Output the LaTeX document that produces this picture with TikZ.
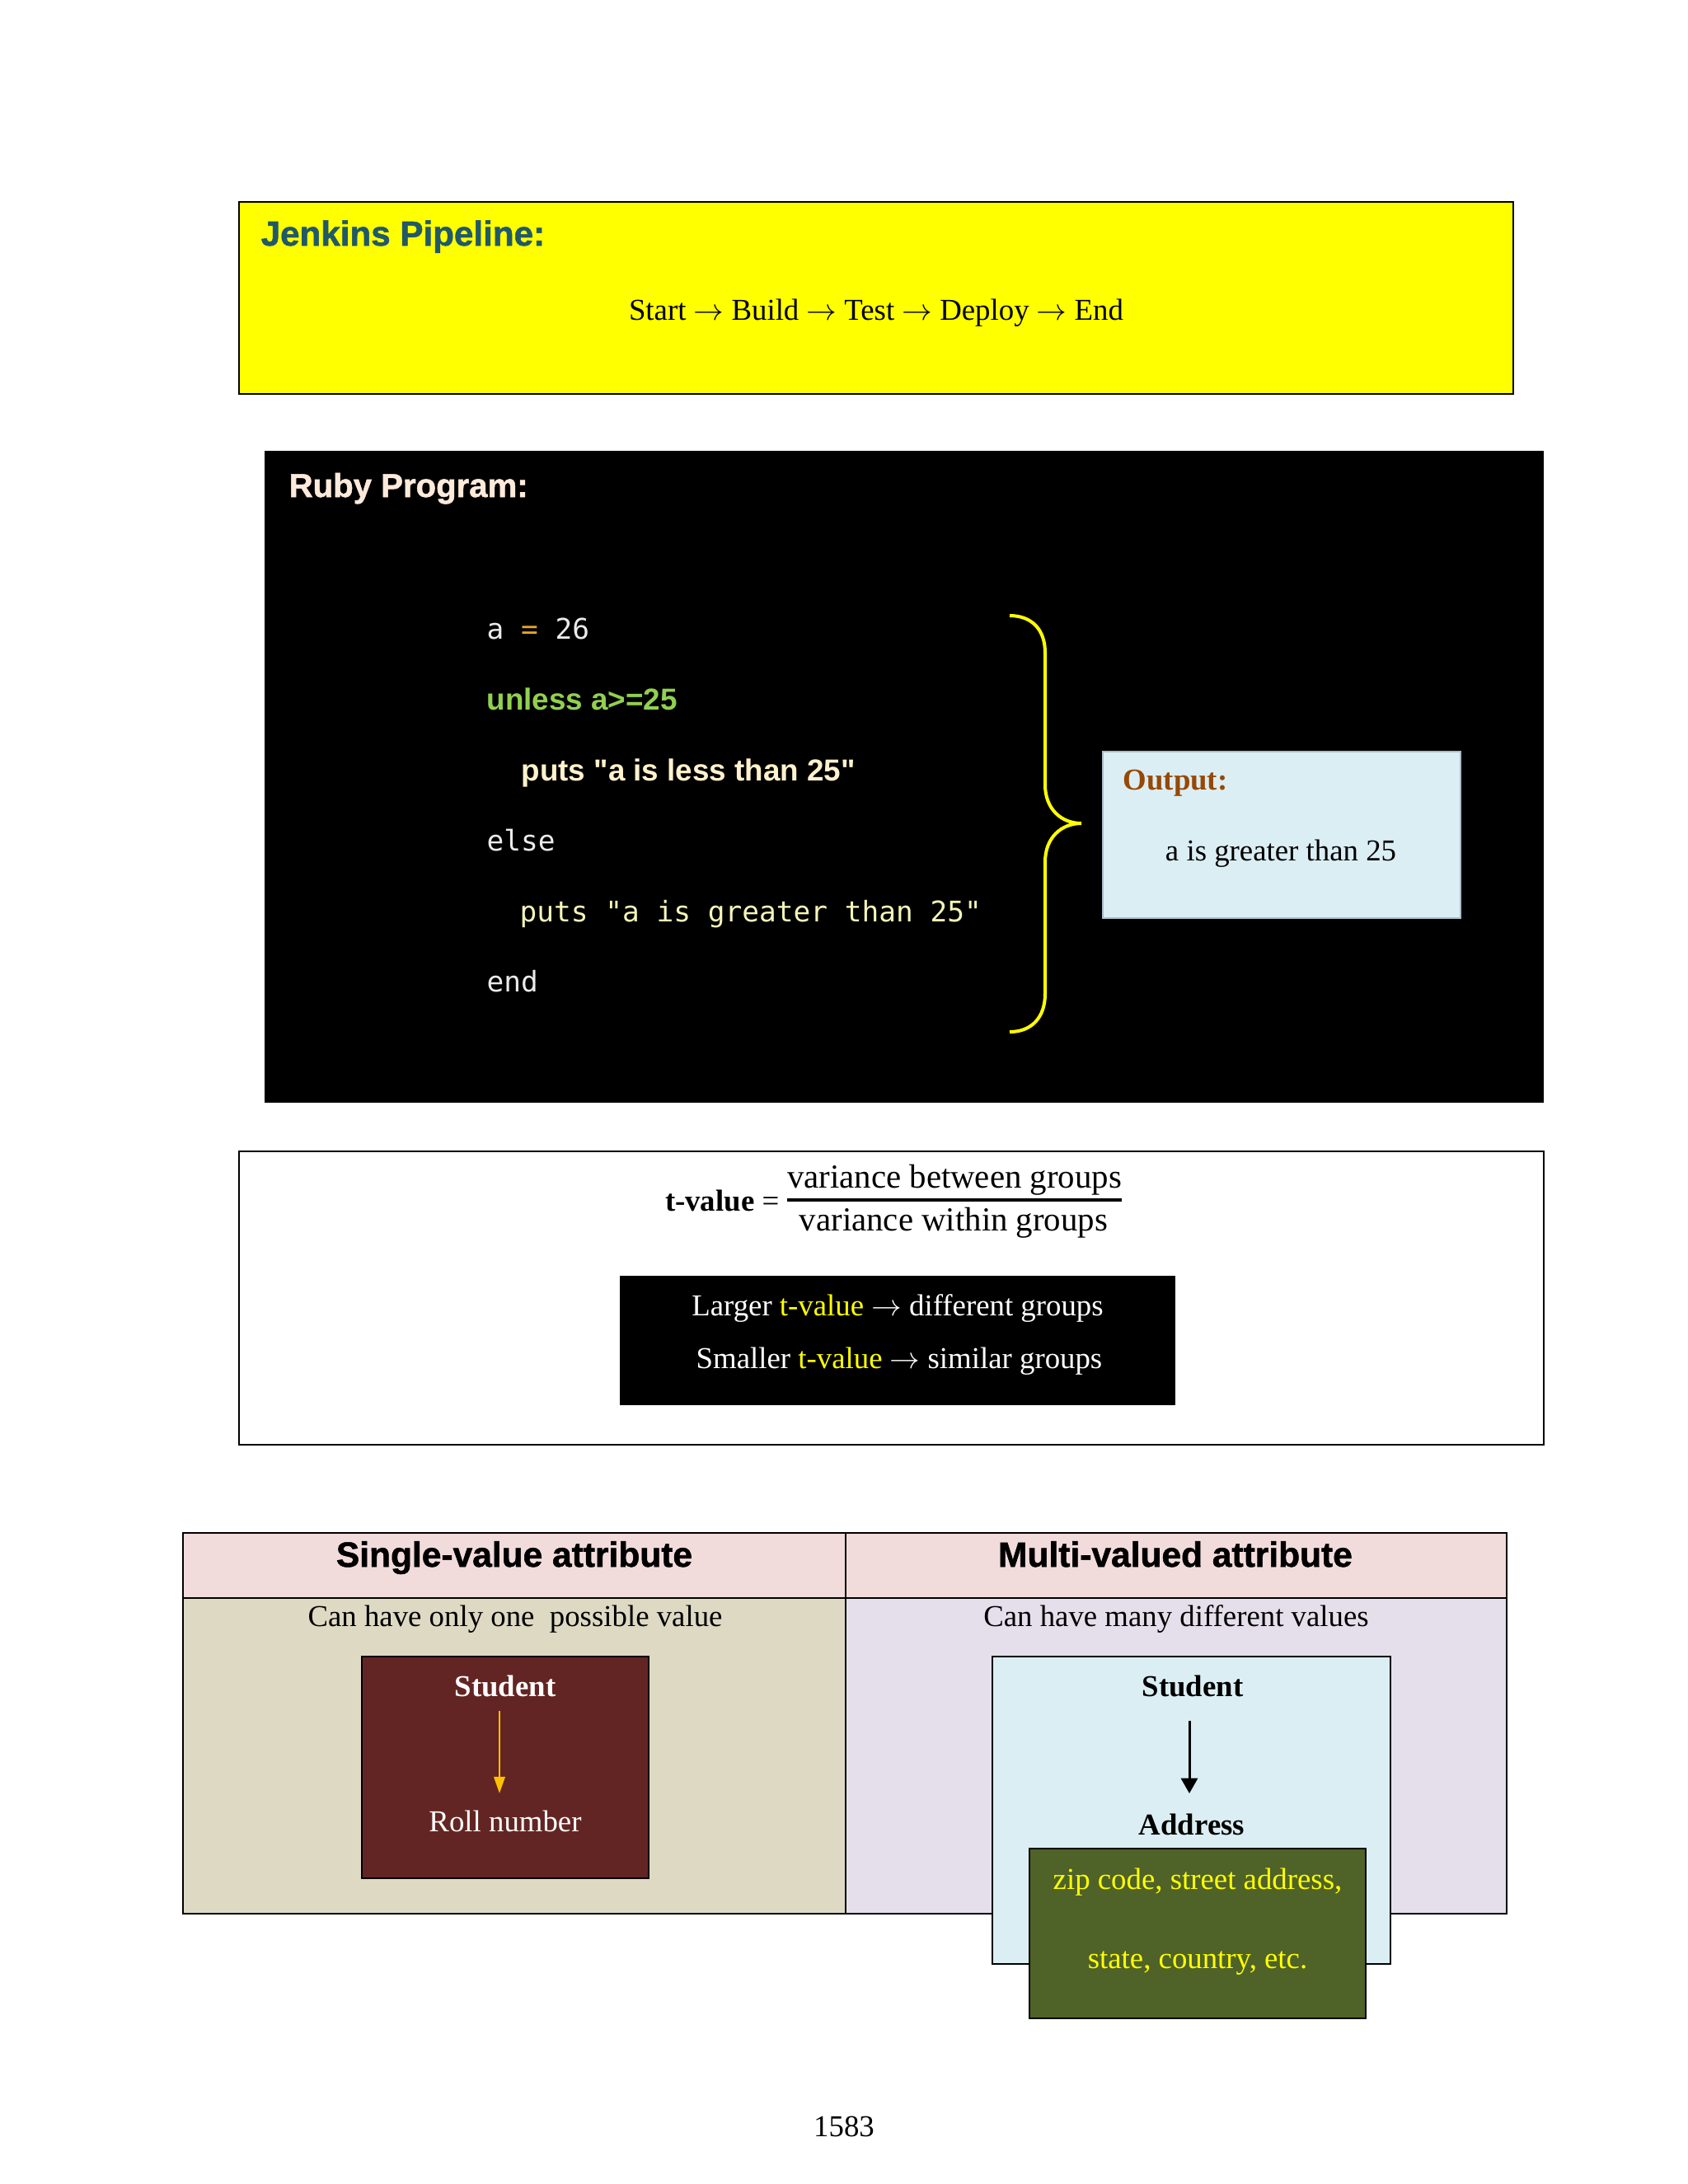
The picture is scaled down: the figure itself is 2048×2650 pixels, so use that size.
\documentclass[tikz,border=0pt]{standalone}
\usepackage{fontspec}
\setmainfont{Liberation Serif}
\setsansfont{Liberation Sans}
\setmonofont{DejaVu Sans Mono}
\newfontfamily\plainsans{Liberation Sans}
\newfontfamily\heavysans{Liberation Sans}[BoldFeatures={FakeBold=1.3}]
\usetikzlibrary{fit,arrows.meta}
\definecolor{jteal}{RGB}{33,89,103}
\definecolor{jyellow}{RGB}{255,255,0}
\definecolor{rcream}{RGB}{253,234,218}
\definecolor{rputs}{RGB}{255,242,204}
\definecolor{rmono}{RGB}{235,235,235}
\definecolor{rorange}{RGB}{230,165,40}
\definecolor{rgreen}{RGB}{146,208,80}
\definecolor{rpale}{RGB}{245,245,185}
\definecolor{outblue}{RGB}{219,238,243}
\definecolor{outborder}{RGB}{170,190,200}
\definecolor{outbrown}{RGB}{151,72,6}
\definecolor{tyellow}{RGB}{255,255,0}
\definecolor{hpink}{RGB}{242,220,219}
\definecolor{btan}{RGB}{221,217,195}
\definecolor{blav}{RGB}{229,223,236}
\definecolor{maroonfill}{RGB}{99,37,35}
\definecolor{olivefill}{RGB}{79,98,40}
\definecolor{aorange}{RGB}{255,192,0}
\begin{document}
\begin{tikzpicture}[x=0.29883pt,y=-0.29883pt,
  box/.style={draw=black,line width=0.8pt,inner sep=0pt},
  tbox/.style={draw=black,line width=0.6pt,inner sep=0pt},
  txt/.style={inner sep=0pt,anchor=base},
  txtl/.style={inner sep=0pt,anchor=base west},
  serif11/.style={font=\fontsize{11}{13}\selectfont},
  serifb11/.style={font=\bfseries\fontsize{11}{13}\selectfont},
  monotxt/.style={font=\ttfamily\fontsize{10.3}{12}\selectfont},
  sansb/.style={font=\plainsans\bfseries\fontsize{#1}{15}\selectfont},
  heavyb/.style={font=\heavysans\bfseries\fontsize{#1}{15}\selectfont}]
\useasboundingbox[fill=white] (0,0) rectangle (2048,2650);

% Jenkins
\node[box,fill=jyellow,fit={(290,245)(1836,478)}] (jbox) {};
\node[txtl,heavyb=12.6,text=jteal] (jtitle) at (316,298) {Jenkins Pipeline:};
\node[txt,serif11] (jflow) at (1063,388) {Start $\rightarrow$ Build $\rightarrow$ Test $\rightarrow$ Deploy $\rightarrow$ End};

% Ruby
\node[box,fill=black,fit={(322,548)(1872,1337)}] (rbox) {};
\node[txtl,heavyb=12,text=rcream] (rtitle) at (350,603) {Ruby Program:};
\node[txtl,monotxt,text=rmono] (c1) at (590,775) {a \textcolor{rorange}{=} 26};
\node[txtl,sansb=11,text=rgreen] (c2) at (590,861) {unless a>=25};
\node[txtl,sansb=11,text=rputs] (c3) at (632,947) {puts "a is less than 25"};
\node[txtl,monotxt,text=rmono] (c4) at (590,1032) {else};
\node[txtl,monotxt,text=rpale] (c5) at (630,1118) {puts "a is greater than 25"};
\node[txtl,monotxt,text=rmono] (c6) at (590,1203) {end};
\draw[draw=jyellow,line width=1.2pt] (1225,747) .. controls (1252,747) and (1268,764) .. (1268,792) -- (1268,952) .. controls (1268,982) and (1288,999) .. (1312,999) .. controls (1288,999) and (1268,1016) .. (1268,1046) -- (1268,1206) .. controls (1268,1234) and (1252,1252) .. (1225,1252);
\node[fill=outblue,draw=outborder,line width=0.5pt,inner sep=0pt,fit={(1338,912)(1772,1114)}] (obox) {};
\node[txtl,serifb11,text=outbrown] (otitle) at (1362,958) {Output:};
\node[txt,serif11] (oval) at (1554,1044) {a is greater than 25};

% t-value
\node[box,fill=white,fit={(290,1397)(1873,1753)}] (tvbox) {};
\node[inner sep=0pt,anchor=base east,serif11] (tlab) at (946,1469) {\textbf{t-value} =};
\node[txt,font=\fontsize{12.2}{14}\selectfont] (tnum) at (1158,1441) {variance between groups};
\node[txt,font=\fontsize{12.2}{14}\selectfont] (tden) at (1157,1493) {variance within groups};
\draw[line width=1.1pt] (955,1456) -- (1361,1456);
\node[box,fill=black,fit={(753,1549)(1425,1704)}] (tin) {};
\node[txt,serif11,text=white] (tl1) at (1089,1596) {Larger \textcolor{tyellow}{t-value} $\rightarrow$ different groups};
\node[txt,serif11,text=white] (tl2) at (1091,1660) {Smaller \textcolor{tyellow}{t-value} $\rightarrow$ similar groups};

% table
\node[tbox,fill=hpink,fit={(222,1860)(1026,1939)}] (h1) {};
\node[tbox,fill=hpink,fit={(1026,1860)(1828,1939)}] (h2) {};
\node[tbox,fill=btan,fit={(222,1939)(1026,2322)}] (b1) {};
\node[tbox,fill=blav,fit={(1026,1939)(1828,2322)}] (b2) {};
\node[txt,heavyb=12.7] (h1t) at (624,1901) {Single-value attribute};
\node[txt,heavyb=12.7] (h2t) at (1426,1901) {Multi-valued attribute};
\node[txt,serif11] (b1t) at (625,1973) {Can have only one\ \ possible value};
\node[txt,serif11] (b2t) at (1427,1973) {Can have many different values};

\node[box,fill=maroonfill,fit={(439,2010)(787,2279)}] (mbox) {};
\node[txt,serifb11,text=white] (s1) at (613,2058) {Student};
\node[txt,serif11,text=white] (r1) at (613,2222) {Roll number};
\coordinate (a1s) at (606,2076);
\coordinate (a1e) at (606,2176);
\draw[draw=aorange,line width=0.7pt,-{Triangle[length=6pt,width=4pt]}] (a1s) -- (a1e);

\node[box,fill=outblue,fit={(1204,2010)(1687,2383)}] (sbox) {};
\node[txt,serifb11] (s2) at (1447,2058) {Student};
\coordinate (a2s) at (1443,2088);
\coordinate (a2e) at (1443,2176);
\draw[line width=0.9pt,-{Triangle[length=5.5pt,width=6pt]}] (a2s) -- (a2e);
\node[txt,serifb11] (ad) at (1446,2226) {Address};
\node[box,fill=olivefill,fit={(1249,2243)(1657,2449)}] (gbox) {};
\node[txt,serif11,text=tyellow] (z1) at (1453,2292) {zip code, street address,};
\node[txt,serif11,text=tyellow] (z2) at (1453,2388) {state, country, etc.};

\node[txt,serif11] (pg) at (1024,2592) {1583};
\end{tikzpicture}
\end{document}
